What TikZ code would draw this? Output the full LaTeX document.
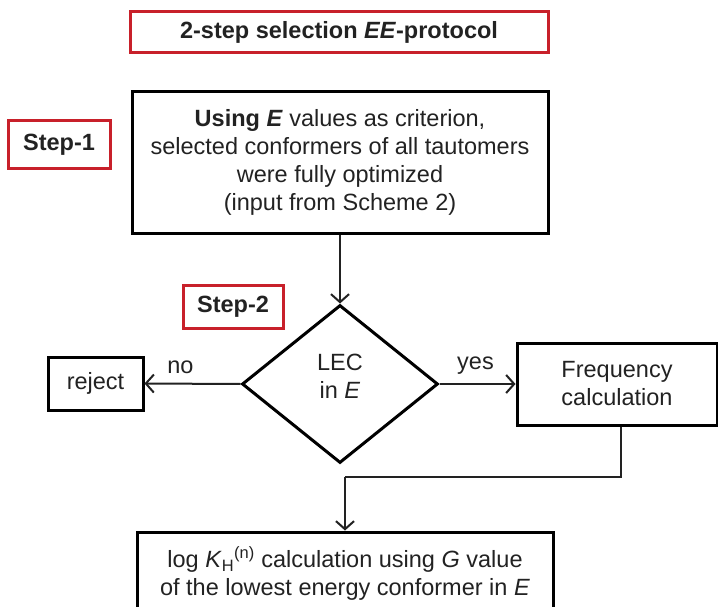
\documentclass[tikz,border=0pt]{standalone}
\usepackage{fontspec}
\setmainfont{Liberation Sans}
\usetikzlibrary{shapes.geometric,arrows.meta}
\definecolor{redframe}{HTML}{C8202A}
\definecolor{ink}{HTML}{222222}
\tikzset{
  x=1pt,y=-1pt,
  every node/.style={text=ink,font=\fontsize{23.5}{28}\selectfont},
  redbox/.style={draw=redframe,line width=3pt,rectangle,inner sep=0pt,font=\bfseries\fontsize{23.5}{28}\selectfont},
  blackbox/.style={draw=black,line width=3pt,rectangle,inner sep=0pt,align=center},
  decision/.style={draw=black,line width=3pt,diamond,inner sep=0pt,align=center},
  conn/.style={draw=ink,line width=2pt,-{Straight Barb[length=8pt,width=18pt,line width=2pt]}},
  plainconn/.style={draw=ink,line width=2pt},
  lbl/.style={inner sep=0pt}
}
\begin{document}
\begin{tikzpicture}
\useasboundingbox[fill=white] (0,0) rectangle (718,607);
\node[redbox,minimum width=418pt,minimum height=41pt] (title) at (339,32.5) {2-step selection \textit{EE}-protocol};
\node[redbox,minimum width=102pt,minimum height=48pt] (step1) at (59,145) {Step-1};
\node[blackbox,minimum width=416pt,minimum height=141pt] (main) at (340,162.5)
  {\textbf{Using \textit{E}} values as criterion,\\selected conformers of all tautomers\\were fully optimized\\(input from Scheme 2)};
\node[redbox,minimum width=100pt,minimum height=43pt] (step2) at (233,306.5) {Step-2};
\node[decision,minimum width=196pt,minimum height=158pt] (dec) at (340,384) {};
\node[lbl,align=center] (dectext) at (340,376) {LEC\\in \textit{E}};
\node[blackbox,minimum width=95pt,minimum height=53pt] (reject) at (95.5,383.5) {reject};
\node[blackbox,minimum width=200pt,minimum height=82pt] (freq) at (617,384) {Frequency\\calculation};
\node[blackbox,minimum width=416pt,minimum height=83pt] (bot) at (345,573.5)
  {log \textit{K}\textsubscript{H}\textsuperscript{(n)} calculation using \textit{G} value\\of the lowest energy conformer in \textit{E}};
\draw[conn] (main.south -| dec.north) -- (dec.north);
\draw[conn] (dec.west) -- node[lbl,above=9pt,xshift=-12pt] (no) {no} (reject.east);
\draw[conn] (dec.east) -- node[lbl,above=9pt,xshift=-2pt] (yes) {yes} (freq.west);
\coordinate (turn) at (621,477);
\draw[plainconn] (freq.south -| turn) -- (turn) -- (turn -| bot.north);
\draw[conn] (turn -| bot.north) -- (bot.north);
\end{tikzpicture}
\end{document}
